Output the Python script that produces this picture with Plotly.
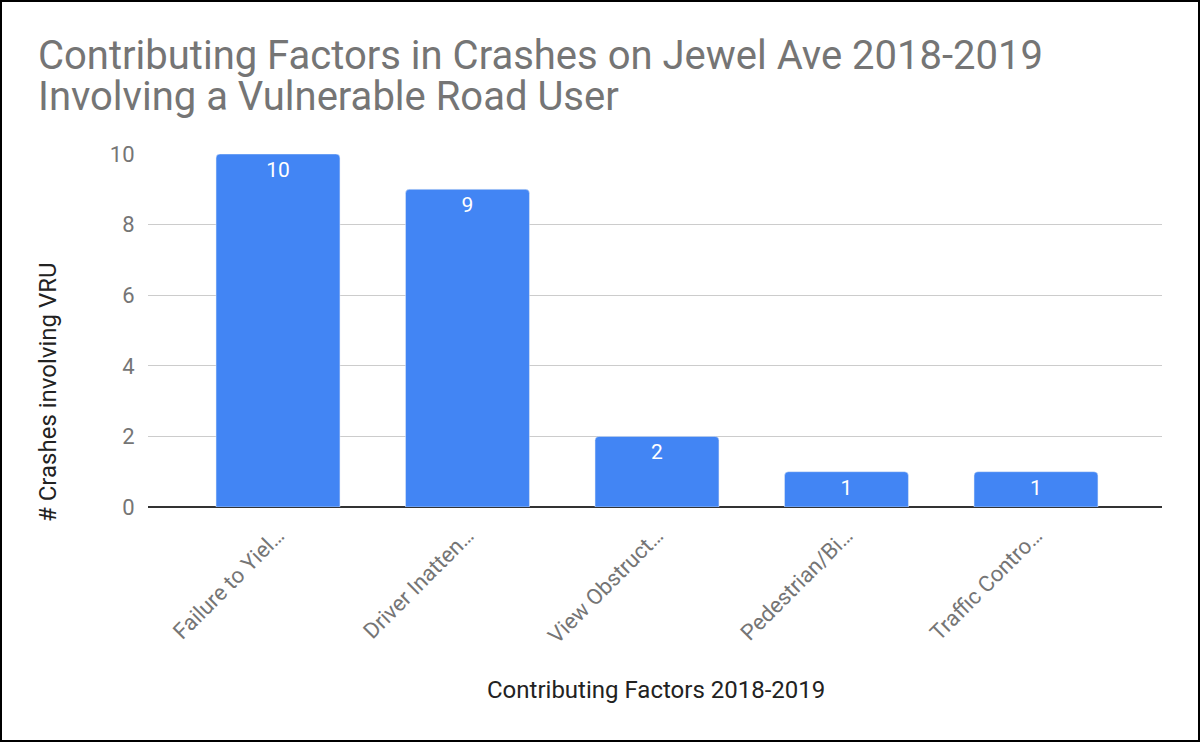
import plotly.graph_objects as go

factors = ["Failure to Yiel…", "Driver Inatten…", "View Obstruct…", "Pedestrian/Bi…", "Traffic Contro…"]
crashes = [10, 9, 2, 1, 1]

title_lines = ["Contributing Factors in Crashes on Jewel Ave 2018-2019",
               "Involving a Vulnerable Road User"]
x_title = "Contributing Factors 2018-2019"
y_title = "# Crashes involving VRU"

W, H = 1200, 742
L, R, T, B = 148, 38, 154, 235
pw = W - L - R
ph = H - T - B


def px_x(x):
    # figure pixel -> paper coordinate
    return (x - L) / pw


def px_y(y):
    return (H - B - y) / ph


fig = go.Figure(go.Bar(
    x=list(range(len(factors))),
    y=crashes,
    width=0.654,
    marker=dict(color="#4285f4", cornerradius=4),
    text=crashes,
    textposition="inside",
    insidetextanchor="end",
    textangle=0,
    textfont=dict(family="Roboto", size=21, color="white"),
    hoverinfo="skip",
))

annotations = [
    dict(text=title_lines[0], x=px_x(36), y=px_y(55), xanchor="left", yanchor="middle",
         font=dict(size=40, color="#757575")),
    dict(text=title_lines[1], x=px_x(36), y=px_y(96), xanchor="left", yanchor="middle",
         font=dict(size=40, color="#757575")),
    dict(text=x_title, x=px_x(656), y=px_y(690), xanchor="center", yanchor="middle",
         font=dict(size=24, color="#222222")),
    dict(text=y_title, x=px_x(48), y=px_y(392), xanchor="center", yanchor="middle",
         textangle=-90, font=dict(size=24, color="#222222")),
]
for a in annotations:
    a.update(xref="paper", yref="paper", showarrow=False)

fig.update_layout(
    width=W, height=H,
    margin=dict(l=L, r=R, t=T, b=B),
    plot_bgcolor="white",
    paper_bgcolor="white",
    font=dict(family="Roboto"),
    showlegend=False,
    annotations=annotations,
    xaxis=dict(
        range=[-0.686, 4.665],
        tickmode="array",
        tickvals=list(range(len(factors))),
        ticktext=factors,
        tickangle=-45,
        tickfont=dict(size=22, color="#757575"),
        showgrid=False,
        zeroline=False,
        showline=False,
        ticks="outside",
        ticklen=6,
        tickcolor="white",
    ),
    yaxis=dict(
        range=[0, 10],
        dtick=2,
        tickfont=dict(size=22, color="#757575"),
        gridcolor="#cccccc",
        gridwidth=1,
        zeroline=True,
        zerolinecolor="#333333",
        zerolinewidth=2,
        showline=False,
        ticks="outside",
        ticklen=8,
        tickcolor="white",
    ),
    shapes=[dict(
        type="rect", xref="paper", yref="paper",
        x0=px_x(1), x1=px_x(W - 1),
        y0=px_y(H - 1), y1=px_y(1),
        line=dict(color="black", width=2),
        fillcolor="rgba(0,0,0,0)",
        layer="above",
    )],
)

fig.write_html("out.html", config={"displayModeBar": False},
               post_script="document.body.style.margin='0';")
